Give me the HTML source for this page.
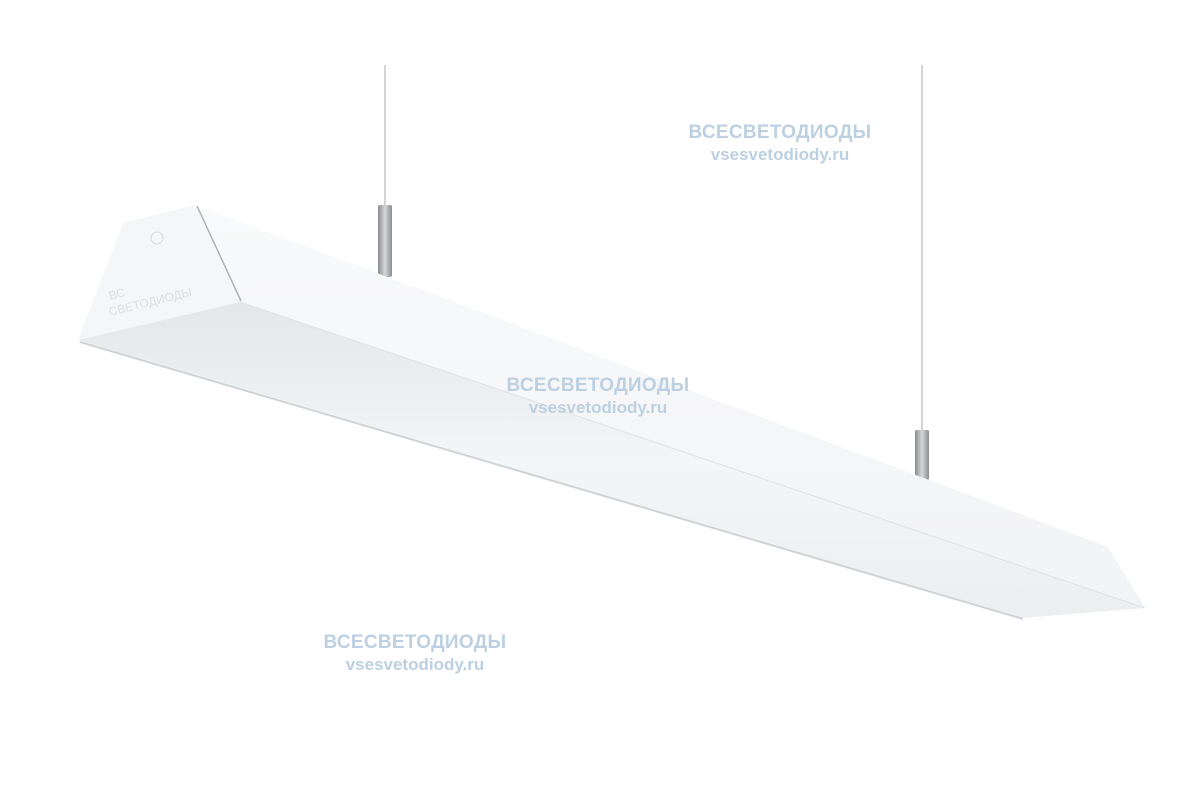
<!DOCTYPE html>
<html><head><meta charset="utf-8"><style>
html,body{margin:0;padding:0;background:#fff;}
.wm{position:absolute;font-family:"Liberation Sans","Noto Sans CJK SC",sans-serif;font-weight:bold;color:#bcd0e2;text-align:center;line-height:22px;}
.wm .a{font-size:19px;letter-spacing:0.3px}
.wm .b{font-size:17px}
</style></head><body>
<div style="position:relative;width:1200px;height:800px;overflow:hidden;">
<svg width="1200" height="800" style="position:absolute;left:0;top:0">
<defs>
<linearGradient id="dif" x1="0" y1="0" x2="0" y2="1">
<stop offset="0" stop-color="#e4e6e9"/><stop offset="0.5" stop-color="#f4f5f6"/><stop offset="1" stop-color="#eceef0"/>
</linearGradient>
<linearGradient id="side" x1="0" y1="0" x2="0" y2="1">
<stop offset="0" stop-color="#f9fafb"/><stop offset="1" stop-color="#f2f3f5"/>
</linearGradient>
<linearGradient id="grip" x1="0" y1="0" x2="1" y2="0">
<stop offset="0" stop-color="#8a8c8f"/><stop offset="0.5" stop-color="#d5d6d8"/><stop offset="1" stop-color="#8a8c8f"/>
</linearGradient>
</defs>
<line x1="385" y1="65" x2="385" y2="208" stroke="#a6a8ab" stroke-width="1"/>
<line x1="922" y1="65" x2="922" y2="432" stroke="#a6a8ab" stroke-width="1"/>
<rect x="378" y="205" width="14" height="72" rx="2" fill="url(#grip)"/>
<rect x="915" y="430" width="14" height="50" rx="2" fill="url(#grip)"/>
<polygon points="78,340 240,302 1145,608 1023,618" fill="url(#dif)"/>
<line x1="80" y1="342" x2="1023" y2="619" stroke="#cfd2d6" stroke-width="2"/>
<polygon points="195,205 1108,547 1145,608 240,302" fill="url(#side)"/>
<line x1="240" y1="302" x2="1145" y2="608" stroke="#dfe1e4" stroke-width="1"/>
<polygon points="123,223 195,205 240,302 78,340" fill="#f5f6f8"/>
<line x1="197" y1="206" x2="241" y2="301" stroke="#aeb1b6" stroke-width="1.5"/>
<circle cx="157" cy="238" r="6" fill="none" stroke="#d6d8dc" stroke-width="1"/>
<text x="110" y="300" font-family="Liberation Sans,sans-serif" font-size="12" fill="#dcdee2" transform="rotate(-14 110 300)">ВС</text>
<text x="110" y="316" font-family="Liberation Sans,sans-serif" font-size="12" fill="#dcdee2" transform="rotate(-14 110 316)">СВЕТОДИОДЫ</text>
</svg>
<div class="wm" style="left:660px;top:122px;width:240px"><div class="a">ВСЕСВЕТОДИОДЫ</div><div class="b">vsesvetodiody.ru</div></div>
<div class="wm" style="left:478px;top:375px;width:240px"><div class="a">ВСЕСВЕТОДИОДЫ</div><div class="b">vsesvetodiody.ru</div></div>
<div class="wm" style="left:295px;top:632px;width:240px"><div class="a">ВСЕСВЕТОДИОДЫ</div><div class="b">vsesvetodiody.ru</div></div>
</div>
</body></html>
